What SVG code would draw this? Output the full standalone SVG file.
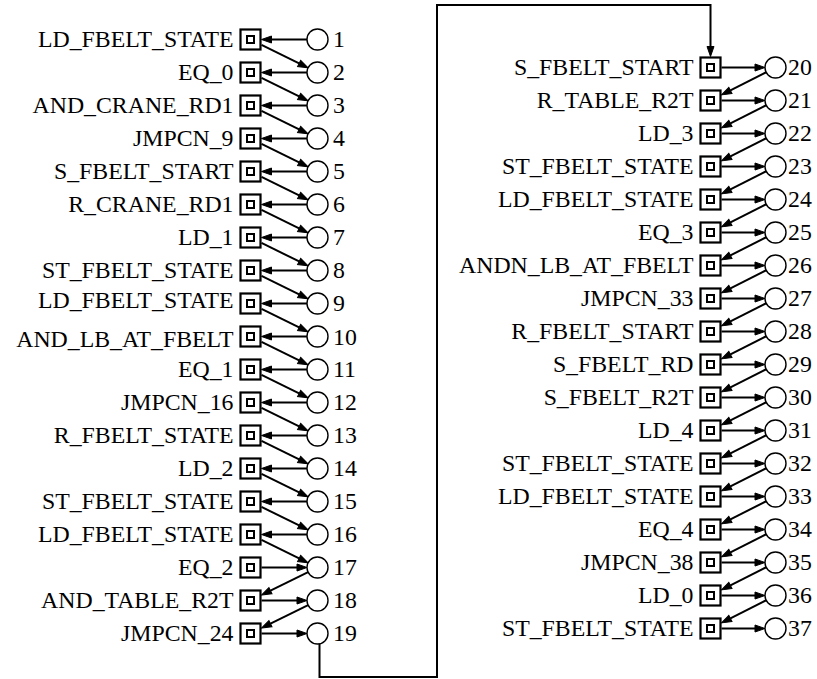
<svg xmlns="http://www.w3.org/2000/svg" width="817" height="679" viewBox="0 0 817 679" font-family="'Liberation Serif', 'Times New Roman', serif" font-size="23.8">
<style>
.ob{fill:#fff;stroke:#000;stroke-width:2.2}
.ib{fill:none;stroke:#000;stroke-width:2}
.ci{fill:#fff;stroke:#000;stroke-width:1.4}
.l{text-anchor:end}
.e{fill:none;stroke:#000;stroke-width:2;marker-end:url(#ah)}
</style>
<defs>
<marker id="ah" markerUnits="userSpaceOnUse" viewBox="-1 -5 13 10" markerWidth="13" markerHeight="10" refX="0" refY="0" orient="auto">
<path d="M0,-3.5 L10,0 L0,3.5 Z" fill="#000" stroke="#000" stroke-width="1"/>
</marker>
<g id="bx"><rect class="ob" x="-10" y="-10" width="20" height="20"/><rect class="ib" x="-3.5" y="-3.5" width="7" height="7"/></g>
<circle id="cc" class="ci" r="10.5"/>
</defs>
<g id="edges">
<path class="e" d="M307,39.5H271.5"/><path class="e" d="M307,72.5H271.5"/><path class="e" d="M307,105.5H271.5"/><path class="e" d="M307,138.5H271.5"/>
<path class="e" d="M307,171.5H271.5"/><path class="e" d="M307,204.5H271.5"/><path class="e" d="M307,237.5H271.5"/><path class="e" d="M307,270.5H271.5"/>
<path class="e" d="M307,303.5H271.5"/><path class="e" d="M307,336.5H271.5"/><path class="e" d="M307,369.5H271.5"/><path class="e" d="M307,402.5H271.5"/>
<path class="e" d="M307,435.5H271.5"/><path class="e" d="M307,468.5H271.5"/><path class="e" d="M307,501.5H271.5"/><path class="e" d="M307,534.5H271.5"/>
<path class="e" d="M261.5,44.92L299.11,63.44"/><path class="e" d="M261.5,77.92L299.11,96.44"/><path class="e" d="M261.5,110.92L299.11,129.44"/><path class="e" d="M261.5,143.92L299.11,162.44"/>
<path class="e" d="M261.5,176.92L299.11,195.44"/><path class="e" d="M261.5,209.92L299.11,228.44"/><path class="e" d="M261.5,242.92L299.11,261.44"/><path class="e" d="M261.5,275.92L299.11,294.44"/>
<path class="e" d="M261.5,308.92L299.11,327.44"/><path class="e" d="M261.5,341.92L299.11,360.44"/><path class="e" d="M261.5,374.92L299.11,393.44"/><path class="e" d="M261.5,407.92L299.11,426.44"/>
<path class="e" d="M261.5,440.92L299.11,459.44"/><path class="e" d="M261.5,473.92L299.11,492.44"/><path class="e" d="M261.5,506.92L299.11,525.44"/><path class="e" d="M261.5,539.92L299.11,558.44"/>
<path class="e" d="M261.5,567.5H297"/><path class="e" d="M308.08,572.14L270.47,590.66"/>
<path class="e" d="M261.5,600.5H297"/><path class="e" d="M308.08,605.14L270.47,623.66"/>
<path class="e" d="M261.5,633.5H297"/>
<path class="e" d="M319.5,644V677H437V5H710.5V46.5"/>
<path class="e" d="M721.5,67.5H755"/><path class="e" d="M721.5,100.5H755"/><path class="e" d="M721.5,133.5H755"/><path class="e" d="M721.5,166.5H755"/>
<path class="e" d="M721.5,199.5H755"/><path class="e" d="M721.5,232.5H755"/><path class="e" d="M721.5,265.5H755"/><path class="e" d="M721.5,298.5H755"/>
<path class="e" d="M721.5,331.5H755"/><path class="e" d="M721.5,364.5H755"/><path class="e" d="M721.5,397.5H755"/><path class="e" d="M721.5,430.5H755"/>
<path class="e" d="M721.5,463.5H755"/><path class="e" d="M721.5,496.5H755"/><path class="e" d="M721.5,529.5H755"/><path class="e" d="M721.5,562.5H755"/>
<path class="e" d="M721.5,595.5H755"/><path class="e" d="M721.5,628.5H755"/>
<path class="e" d="M766.14,72.25L730.42,90.39"/><path class="e" d="M766.14,105.25L730.42,123.39"/><path class="e" d="M766.14,138.25L730.42,156.39"/>
<path class="e" d="M766.14,171.25L730.42,189.39"/><path class="e" d="M766.14,204.25L730.42,222.39"/><path class="e" d="M766.14,237.25L730.42,255.39"/>
<path class="e" d="M766.14,270.25L730.42,288.39"/><path class="e" d="M766.14,303.25L730.42,321.39"/><path class="e" d="M766.14,336.25L730.42,354.39"/>
<path class="e" d="M766.14,369.25L730.42,387.39"/><path class="e" d="M766.14,402.25L730.42,420.39"/><path class="e" d="M766.14,435.25L730.42,453.39"/>
<path class="e" d="M766.14,468.25L730.42,486.39"/><path class="e" d="M766.14,501.25L730.42,519.39"/><path class="e" d="M766.14,534.25L730.42,552.39"/>
<path class="e" d="M766.14,567.25L730.42,585.39"/><path class="e" d="M766.14,600.25L730.42,618.39"/>
</g>
<g id="b1" transform="translate(250.5,39.5)"><use href="#bx"/><text class="l" x="-17" y="7">LD_FBELT_STATE</text></g>
<g id="b2" transform="translate(250.5,72.5)"><use href="#bx"/><text class="l" x="-17" y="7">EQ_0</text></g>
<g id="b3" transform="translate(250.5,105.5)"><use href="#bx"/><text class="l" x="-17" y="7">AND_CRANE_RD1</text></g>
<g id="b4" transform="translate(250.5,138.5)"><use href="#bx"/><text class="l" x="-17" y="7">JMPCN_9</text></g>
<g id="b5" transform="translate(250.5,171.5)"><use href="#bx"/><text class="l" x="-17" y="7">S_FBELT_START</text></g>
<g id="b6" transform="translate(250.5,204.5)"><use href="#bx"/><text class="l" x="-17" y="7">R_CRANE_RD1</text></g>
<g id="b7" transform="translate(250.5,237.5)"><use href="#bx"/><text class="l" x="-17" y="7">LD_1</text></g>
<g id="b8" transform="translate(250.5,270.5)"><use href="#bx"/><text class="l" x="-17" y="7">ST_FBELT_STATE</text></g>
<g id="b9" transform="translate(250.5,303.5)"><use href="#bx"/><text class="l" x="-17" y="4">LD_FBELT_STATE</text></g>
<g id="b10" transform="translate(250.5,336.5)"><use href="#bx"/><text class="l" x="-17" y="10.5">AND_LB_AT_FBELT</text></g>
<g id="b11" transform="translate(250.5,369.5)"><use href="#bx"/><text class="l" x="-17" y="7">EQ_1</text></g>
<g id="b12" transform="translate(250.5,402.5)"><use href="#bx"/><text class="l" x="-17" y="7">JMPCN_16</text></g>
<g id="b13" transform="translate(250.5,435.5)"><use href="#bx"/><text class="l" x="-17" y="7">R_FBELT_STATE</text></g>
<g id="b14" transform="translate(250.5,468.5)"><use href="#bx"/><text class="l" x="-17" y="7">LD_2</text></g>
<g id="b15" transform="translate(250.5,501.5)"><use href="#bx"/><text class="l" x="-17" y="7">ST_FBELT_STATE</text></g>
<g id="b16" transform="translate(250.5,534.5)"><use href="#bx"/><text class="l" x="-17" y="7">LD_FBELT_STATE</text></g>
<g id="b17" transform="translate(250.5,567.5)"><use href="#bx"/><text class="l" x="-17" y="7">EQ_2</text></g>
<g id="b18" transform="translate(250.5,600.5)"><use href="#bx"/><text class="l" x="-17" y="7">AND_TABLE_R2T</text></g>
<g id="b19" transform="translate(250.5,633.5)"><use href="#bx"/><text class="l" x="-17" y="7">JMPCN_24</text></g>
<g id="c1" transform="translate(317.5,39.5)"><use href="#cc"/><text x="15.5" y="7.5">1</text></g>
<g id="c2" transform="translate(317.5,72.5)"><use href="#cc"/><text x="15.5" y="7.5">2</text></g>
<g id="c3" transform="translate(317.5,105.5)"><use href="#cc"/><text x="15.5" y="7.5">3</text></g>
<g id="c4" transform="translate(317.5,138.5)"><use href="#cc"/><text x="15.5" y="7.5">4</text></g>
<g id="c5" transform="translate(317.5,171.5)"><use href="#cc"/><text x="15.5" y="7.5">5</text></g>
<g id="c6" transform="translate(317.5,204.5)"><use href="#cc"/><text x="15.5" y="7.5">6</text></g>
<g id="c7" transform="translate(317.5,237.5)"><use href="#cc"/><text x="15.5" y="7.5">7</text></g>
<g id="c8" transform="translate(317.5,270.5)"><use href="#cc"/><text x="15.5" y="7.5">8</text></g>
<g id="c9" transform="translate(317.5,303.5)"><use href="#cc"/><text x="15.5" y="7.5">9</text></g>
<g id="c10" transform="translate(317.5,336.5)"><use href="#cc"/><text x="15.5" y="8.5">10</text></g>
<g id="c11" transform="translate(317.5,369.5)"><use href="#cc"/><text x="15.5" y="7.5">11</text></g>
<g id="c12" transform="translate(317.5,402.5)"><use href="#cc"/><text x="15.5" y="7.5">12</text></g>
<g id="c13" transform="translate(317.5,435.5)"><use href="#cc"/><text x="15.5" y="7.5">13</text></g>
<g id="c14" transform="translate(317.5,468.5)"><use href="#cc"/><text x="15.5" y="7.5">14</text></g>
<g id="c15" transform="translate(317.5,501.5)"><use href="#cc"/><text x="15.5" y="7.5">15</text></g>
<g id="c16" transform="translate(317.5,534.5)"><use href="#cc"/><text x="15.5" y="7.5">16</text></g>
<g id="c17" transform="translate(317.5,567.5)"><use href="#cc"/><text x="15.5" y="7.5">17</text></g>
<g id="c18" transform="translate(317.5,600.5)"><use href="#cc"/><text x="15.5" y="7.5">18</text></g>
<g id="c19" transform="translate(317.5,633.5)"><use href="#cc"/><text x="15.5" y="7.5">19</text></g>
<g id="b20" transform="translate(710.5,67.5)"><use href="#bx"/><text class="l" x="-17" y="7">S_FBELT_START</text></g>
<g id="b21" transform="translate(710.5,100.5)"><use href="#bx"/><text class="l" x="-17" y="7">R_TABLE_R2T</text></g>
<g id="b22" transform="translate(710.5,133.5)"><use href="#bx"/><text class="l" x="-17" y="7">LD_3</text></g>
<g id="b23" transform="translate(710.5,166.5)"><use href="#bx"/><text class="l" x="-17" y="7">ST_FBELT_STATE</text></g>
<g id="b24" transform="translate(710.5,199.5)"><use href="#bx"/><text class="l" x="-17" y="7">LD_FBELT_STATE</text></g>
<g id="b25" transform="translate(710.5,232.5)"><use href="#bx"/><text class="l" x="-17" y="7">EQ_3</text></g>
<g id="b26" transform="translate(710.5,265.5)"><use href="#bx"/><text class="l" x="-17" y="7">ANDN_LB_AT_FBELT</text></g>
<g id="b27" transform="translate(710.5,298.5)"><use href="#bx"/><text class="l" x="-17" y="7">JMPCN_33</text></g>
<g id="b28" transform="translate(710.5,331.5)"><use href="#bx"/><text class="l" x="-17" y="7">R_FBELT_START</text></g>
<g id="b29" transform="translate(710.5,364.5)"><use href="#bx"/><text class="l" x="-17" y="7">S_FBELT_RD</text></g>
<g id="b30" transform="translate(710.5,397.5)"><use href="#bx"/><text class="l" x="-17" y="7">S_FBELT_R2T</text></g>
<g id="b31" transform="translate(710.5,430.5)"><use href="#bx"/><text class="l" x="-17" y="7">LD_4</text></g>
<g id="b32" transform="translate(710.5,463.5)"><use href="#bx"/><text class="l" x="-17" y="7">ST_FBELT_STATE</text></g>
<g id="b33" transform="translate(710.5,496.5)"><use href="#bx"/><text class="l" x="-17" y="7">LD_FBELT_STATE</text></g>
<g id="b34" transform="translate(710.5,529.5)"><use href="#bx"/><text class="l" x="-17" y="7">EQ_4</text></g>
<g id="b35" transform="translate(710.5,562.5)"><use href="#bx"/><text class="l" x="-17" y="7">JMPCN_38</text></g>
<g id="b36" transform="translate(710.5,595.5)"><use href="#bx"/><text class="l" x="-17" y="7">LD_0</text></g>
<g id="b37" transform="translate(710.5,628.5)"><use href="#bx"/><text class="l" x="-17" y="7">ST_FBELT_STATE</text></g>
<g id="c20" transform="translate(775.5,67.5)"><use href="#cc"/><text x="12.5" y="7.5">20</text></g>
<g id="c21" transform="translate(775.5,100.5)"><use href="#cc"/><text x="12.5" y="7.5">21</text></g>
<g id="c22" transform="translate(775.5,133.5)"><use href="#cc"/><text x="12.5" y="7.5">22</text></g>
<g id="c23" transform="translate(775.5,166.5)"><use href="#cc"/><text x="12.5" y="7.5">23</text></g>
<g id="c24" transform="translate(775.5,199.5)"><use href="#cc"/><text x="12.5" y="7.5">24</text></g>
<g id="c25" transform="translate(775.5,232.5)"><use href="#cc"/><text x="12.5" y="7.5">25</text></g>
<g id="c26" transform="translate(775.5,265.5)"><use href="#cc"/><text x="12.5" y="7.5">26</text></g>
<g id="c27" transform="translate(775.5,298.5)"><use href="#cc"/><text x="12.5" y="7.5">27</text></g>
<g id="c28" transform="translate(775.5,331.5)"><use href="#cc"/><text x="12.5" y="7.5">28</text></g>
<g id="c29" transform="translate(775.5,364.5)"><use href="#cc"/><text x="12.5" y="7.5">29</text></g>
<g id="c30" transform="translate(775.5,397.5)"><use href="#cc"/><text x="12.5" y="7.5">30</text></g>
<g id="c31" transform="translate(775.5,430.5)"><use href="#cc"/><text x="12.5" y="7.5">31</text></g>
<g id="c32" transform="translate(775.5,463.5)"><use href="#cc"/><text x="12.5" y="7.5">32</text></g>
<g id="c33" transform="translate(775.5,496.5)"><use href="#cc"/><text x="12.5" y="7.5">33</text></g>
<g id="c34" transform="translate(775.5,529.5)"><use href="#cc"/><text x="12.5" y="7.5">34</text></g>
<g id="c35" transform="translate(775.5,562.5)"><use href="#cc"/><text x="12.5" y="7.5">35</text></g>
<g id="c36" transform="translate(775.5,595.5)"><use href="#cc"/><text x="12.5" y="7.5">36</text></g>
<g id="c37" transform="translate(775.5,628.5)"><use href="#cc"/><text x="12.5" y="7.5">37</text></g>
</svg>
